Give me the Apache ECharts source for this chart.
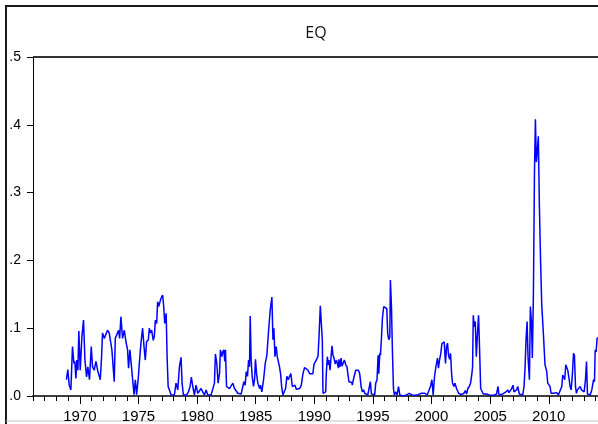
<!DOCTYPE html>
<html>
<head>
<meta charset="utf-8">
<title>EQ</title>
<script src="https://cdn.jsdelivr.net/npm/echarts@6/dist/echarts.min.js"></script>
<style>
  html, body { margin: 0; padding: 0; background: #ffffff; }
  #chart { width: 598px; height: 424px; }
</style>
</head>
<body>
<div id="chart"></div>
<script>
// Observation dates (decimal years) and EQ values
var years = [
  1968.85, 1968.97, 1969.09, 1969.23, 1969.37, 1969.49, 1969.57, 1969.66, 1969.74, 1969.83, 1969.91,
  1970.03, 1970.17, 1970.31, 1970.43, 1970.57, 1970.68, 1970.82, 1970.97,
  1971.08, 1971.22, 1971.37, 1971.51, 1971.65, 1971.74, 1971.85, 1971.93,
  1972.08, 1972.22, 1972.36, 1972.50, 1972.64, 1972.73, 1972.93,
  1973.02, 1973.13, 1973.30, 1973.39, 1973.50, 1973.64, 1973.79, 1973.93,
  1974.07, 1974.15, 1974.27, 1974.36, 1974.50, 1974.62, 1974.73, 1974.84, 1974.99,
  1975.07, 1975.21, 1975.35, 1975.47, 1975.58, 1975.69, 1975.84, 1975.92,
  1976.03, 1976.12, 1976.26, 1976.35, 1976.44, 1976.55, 1976.63, 1976.72, 1976.84, 1976.92,
  1977.06, 1977.15, 1977.24, 1977.36, 1977.44, 1977.53, 1977.64, 1977.78, 1977.92,
  1978.06, 1978.20, 1978.35, 1978.49, 1978.63, 1978.72, 1978.83,
  1979.00, 1979.11, 1979.26, 1979.40, 1979.51, 1979.63, 1979.77, 1979.91,
  1980.06, 1980.20, 1980.34, 1980.48, 1980.62, 1980.77, 1980.91,
  1981.05, 1981.19, 1981.34, 1981.48, 1981.56, 1981.68, 1981.79, 1981.91, 1981.99,
  1982.11, 1982.19, 1982.28, 1982.36, 1982.42, 1982.51, 1982.62, 1982.76, 1982.90,
  1983.05, 1983.19, 1983.33, 1983.47, 1983.62, 1983.76, 1983.90, 1983.99,
  1984.10, 1984.19, 1984.30, 1984.39, 1984.47, 1984.53, 1984.61, 1984.70, 1984.81, 1984.90, 1984.98,
  1985.07, 1985.18, 1985.33, 1985.41, 1985.52, 1985.67, 1985.81, 1985.95,
  1986.10, 1986.24, 1986.38, 1986.47, 1986.55, 1986.64, 1986.75, 1986.84, 1986.92,
  1987.03, 1987.12, 1987.21, 1987.32, 1987.43, 1987.55, 1987.66, 1987.78, 1987.89,
  1988.00, 1988.12, 1988.23, 1988.35, 1988.46, 1988.60, 1988.74, 1988.89,
  1989.03, 1989.17, 1989.31, 1989.46, 1989.60, 1989.74, 1989.88, 1989.97,
  1990.11, 1990.22, 1990.31, 1990.40, 1990.51, 1990.62, 1990.68, 1990.74, 1990.88, 1990.97,
  1991.02, 1991.11, 1991.19, 1991.25, 1991.34, 1991.42, 1991.51, 1991.59, 1991.68, 1991.79, 1991.88, 1991.96,
  1992.05, 1992.10, 1992.19, 1992.28, 1992.36, 1992.45, 1992.56, 1992.68, 1992.79, 1992.87, 1992.96,
  1993.07, 1993.19, 1993.24, 1993.33, 1993.44, 1993.53, 1993.64, 1993.76, 1993.87, 1993.99,
  1994.10, 1994.21, 1994.30, 1994.44, 1994.56, 1994.67, 1994.78, 1994.87,
  1995.01, 1995.15, 1995.24, 1995.35, 1995.44, 1995.50, 1995.58, 1995.64, 1995.72, 1995.81, 1995.92,
  1996.09, 1996.18, 1996.26, 1996.35, 1996.44, 1996.49, 1996.58, 1996.66, 1996.75, 1996.83, 1996.95,
  1997.06, 1997.18, 1997.29, 1997.58, 1997.86,
  1998.09, 1998.20, 1998.32, 1998.57, 1998.86,
  1999.14, 1999.43, 1999.63, 1999.80, 1999.91,
  2000.03, 2000.14, 2000.25, 2000.37, 2000.42, 2000.51, 2000.59, 2000.68, 2000.79, 2000.88, 2000.99,
  2001.08, 2001.19, 2001.28, 2001.36, 2001.45, 2001.54, 2001.62, 2001.71, 2001.79, 2001.91,
  2002.00, 2002.13, 2002.25, 2002.31, 2002.42, 2002.53, 2002.65, 2002.76, 2002.88, 2002.99,
  2003.10, 2003.22, 2003.33, 2003.44, 2003.50, 2003.56, 2003.64, 2003.73, 2003.82, 2003.90,
  2004.01, 2004.10, 2004.19, 2004.30, 2004.41, 2004.56, 2004.70, 2004.84, 2004.98,
  2005.13, 2005.27, 2005.41, 2005.55, 2005.67, 2005.75, 2005.90,
  2006.07, 2006.24, 2006.35, 2006.49, 2006.61, 2006.72, 2006.84, 2006.95,
  2007.03, 2007.15, 2007.26, 2007.35, 2007.43, 2007.49, 2007.63, 2007.78, 2007.89, 2007.98,
  2008.06, 2008.15, 2008.23, 2008.35, 2008.43, 2008.52, 2008.60, 2008.69, 2008.78, 2008.86, 2008.94,
  2009.02, 2009.11, 2009.20, 2009.30, 2009.40, 2009.54, 2009.68, 2009.83, 2009.91, 2009.99,
  2010.11, 2010.20, 2010.31, 2010.40, 2010.54, 2010.68, 2010.82, 2010.97,
  2011.11, 2011.19, 2011.28, 2011.36, 2011.45, 2011.54, 2011.62, 2011.71, 2011.82, 2011.91,
  2012.02, 2012.11, 2012.19, 2012.28, 2012.36, 2012.45, 2012.56, 2012.68, 2012.79, 2012.90,
  2013.02, 2013.13, 2013.22, 2013.30, 2013.42, 2013.53, 2013.67, 2013.82, 2013.90, 2013.96,
  2014.04, 2014.12, 2014.20
];

var eq = [
  0.024, 0.039, 0.016, 0.009, 0.073, 0.048, 0.051, 0.026, 0.053, 0.038, 0.096,
  0.038, 0.087, 0.112, 0.053, 0.028, 0.043, 0.024, 0.073,
  0.043, 0.038, 0.051, 0.038, 0.036, 0.024, 0.058, 0.093,
  0.085, 0.083, 0.097, 0.093, 0.095, 0.068, 0.021,
  0.085, 0.083, 0.097, 0.085, 0.117, 0.085, 0.097, 0.080,
  0.068, 0.041, 0.068, 0.066, 0.024, 0.002, 0.024, 0.002, 0.028,
  0.048, 0.078, 0.100, 0.073, 0.053, 0.080, 0.083, 0.100,
  0.093, 0.097, 0.082, 0.088, 0.112, 0.107, 0.139, 0.132, 0.134, 0.144,
  0.149, 0.132, 0.107, 0.122, 0.058, 0.014, 0.012, 0.002, 0.000,
  0.0015, 0.019, 0.009, 0.043, 0.057, 0.019, 0.0015,
  0.004, 0.0015, 0.006, 0.014, 0.028, 0.014, 0.0015, 0.016,
  0.004, 0.003, 0.011, 0.006, 0.0015, 0.009, 0.0015,
  0.000, 0.0015, 0.004, 0.019, 0.062, 0.048, 0.019, 0.033, 0.068,
  0.058, 0.065, 0.068, 0.051, 0.068, 0.014, 0.016, 0.011, 0.009,
  0.019, 0.011, 0.009, 0.004, 0.006, 0.003, 0.0015, 0.021,
  0.016, 0.036, 0.029, 0.053, 0.043, 0.118, 0.053, 0.029, 0.014, 0.024, 0.054,
  0.033, 0.019, 0.011, 0.016, 0.006, 0.024, 0.048, 0.060,
  0.097, 0.127, 0.146, 0.083, 0.100, 0.058, 0.073, 0.058, 0.056,
  0.043, 0.033, 0.014, 0.0015, 0.004, 0.011, 0.029, 0.024, 0.029,
  0.033, 0.014, 0.014, 0.016, 0.010, 0.009, 0.011, 0.016,
  0.033, 0.042, 0.043, 0.038, 0.033, 0.032, 0.033, 0.047,
  0.051, 0.053, 0.058, 0.087, 0.133, 0.132, 0.083, 0.004, 0.003, 0.006,
  0.033, 0.058, 0.046, 0.053, 0.038, 0.056, 0.074, 0.060, 0.056, 0.047, 0.053, 0.049,
  0.041, 0.054, 0.043, 0.056, 0.044, 0.048, 0.053, 0.046, 0.043, 0.031, 0.021,
  0.019, 0.020, 0.016, 0.024, 0.025, 0.038, 0.039, 0.038, 0.033, 0.014,
  0.006, 0.009, 0.004, 0.006, 0.0015, 0.003, 0.021, 0.003,
  0.001, 0.002, 0.019, 0.024, 0.060, 0.033, 0.063, 0.060, 0.083, 0.115, 0.132,
  0.132, 0.129, 0.092, 0.083, 0.087, 0.171, 0.132, 0.068, 0.011, 0.0015, 0.006,
  0.0015, 0.014, 0.0015, 0.000, 0.0015,
  0.004, 0.006, 0.0015, 0.001, 0.002,
  0.004, 0.004, 0.0015, 0.0015, 0.014,
  0.024, 0.0015, 0.028, 0.043, 0.041, 0.056, 0.041, 0.053, 0.063, 0.077, 0.078,
  0.080, 0.048, 0.073, 0.078, 0.060, 0.054, 0.063, 0.033, 0.019, 0.014,
  0.019, 0.011, 0.009, 0.004, 0.0015, 0.002, 0.0015, 0.004, 0.008, 0.003,
  0.011, 0.014, 0.019, 0.033, 0.043, 0.119, 0.102, 0.110, 0.058, 0.087,
  0.119, 0.068, 0.011, 0.009, 0.003, 0.004, 0.003, 0.0015, 0.001,
  0.0015, 0.001, 0.0015, 0.003, 0.014, 0.0015, 0.0015,
  0.003, 0.005, 0.006, 0.009, 0.005, 0.008, 0.011, 0.016,
  0.006, 0.004, 0.009, 0.014, 0.016, 0.003, 0.0015, 0.0015, 0.014, 0.043,
  0.083, 0.110, 0.058, 0.024, 0.132, 0.110, 0.056, 0.150, 0.330, 0.408, 0.345,
  0.360, 0.383, 0.280, 0.200, 0.135, 0.092, 0.046, 0.036, 0.019, 0.021,
  0.014, 0.004, 0.0015, 0.004, 0.006, 0.005, 0.0015, 0.0015,
  0.014, 0.031, 0.028, 0.024, 0.046, 0.044, 0.038, 0.028, 0.014, 0.009,
  0.033, 0.063, 0.060, 0.014, 0.004, 0.009, 0.011, 0.014, 0.009, 0.010,
  0.006, 0.024, 0.051, 0.003, 0.0015, 0.0015, 0.009, 0.024, 0.021, 0.068,
  0.065, 0.085, 0.086
];

// Axis ranges and tick settings
var yearMin = 1966, yearMax = 2014.2;
var labelStart = 1970, labelStep = 5;
var yMin = 0, yMax = 0.5, yStep = 0.1;
var seriesName = 'EQ';

var points = years.map(function (y, i) { return [y, eq[i]]; });

// Plot box: the time axis runs from the left axis to the right edge of the page
var plotLeft = 33, plotRight = 598, plotTop = 57, plotBottom = 28;
var yearPx = (plotRight - plotLeft) / (yearMax - yearMin);
var labelLeft = plotLeft + (labelStart - yearMin) * yearPx;

var chart = echarts.init(document.getElementById('chart'), null, { renderer: 'canvas' });

chart.setOption({
  animation: false,
  backgroundColor: '#ffffff',
  grid: [
    { left: plotLeft, right: 0, top: plotTop, bottom: plotBottom, containLabel: false },
    { left: labelLeft, right: 0, top: plotTop, bottom: plotBottom, containLabel: false }
  ],
  xAxis: [
    {
      gridIndex: 0, type: 'value', min: yearMin, max: yearMax, interval: 1,
      axisLine: { show: true, lineStyle: { color: '#000000', width: 1.5 } },
      axisTick: { show: true, length: 5, lineStyle: { color: '#000000', width: 1 } },
      axisLabel: { show: false },
      splitLine: { show: false }
    },
    {
      gridIndex: 1, type: 'value', min: labelStart, max: yearMax, interval: labelStep,
      axisLine: { show: false },
      axisTick: { show: true, length: 8, lineStyle: { color: '#000000', width: 1 } },
      axisLabel: {
        show: true, margin: 13, fontSize: 15, color: '#000000',
        fontFamily: 'Liberation Sans, Arial, sans-serif',
        showMaxLabel: false,
        formatter: function (v) { return (v % labelStep === 0) ? String(v) : ''; }
      },
      splitLine: { show: false }
    }
  ],
  yAxis: [
    {
      gridIndex: 0, type: 'value', min: yMin, max: yMax, interval: yStep,
      axisLine: { show: true, lineStyle: { color: '#000000', width: 1 } },
      axisTick: { show: true, length: 6, lineStyle: { color: '#000000', width: 1 } },
      axisLabel: {
        show: true, margin: 12, fontSize: 14, color: '#000000',
        fontFamily: 'Liberation Sans, Arial, sans-serif',
        formatter: function (v) { return '.' + Math.round(v * 10); }
      },
      splitLine: { show: false }
    },
    {
      gridIndex: 1, type: 'value', min: yMin, max: yMax, show: false
    }
  ],
  graphic: [
    // outer frame
    { type: 'polyline', silent: true,
      shape: { points: [[6, 424], [6, 6], [598, 6]] },
      style: { stroke: '#1a1a1a', lineWidth: 2, fill: null } },
    { type: 'line', silent: true,
      shape: { x1: 6, y1: 421, x2: 598, y2: 421 },
      style: { stroke: '#c4c4c4', lineWidth: 1 } },
    // top edge of the plot box
    { type: 'line', silent: true,
      shape: { x1: plotLeft, y1: plotTop, x2: plotRight, y2: plotTop },
      style: { stroke: '#333333', lineWidth: 2 } },
    // title
    { type: 'text', silent: true, x: 316, y: 33,
      style: { text: seriesName, fill: '#111111', font: '16px "Open Sans", sans-serif',
               textAlign: 'center', textVerticalAlign: 'middle' } }
  ],
  series: [
    {
      name: seriesName, type: 'line', xAxisIndex: 0, yAxisIndex: 0,
      data: points, showSymbol: false, symbol: 'none',
      lineStyle: { color: '#0000ff', width: 1.5 },
      clip: true
    }
  ]
});
</script>
</body>
</html>
